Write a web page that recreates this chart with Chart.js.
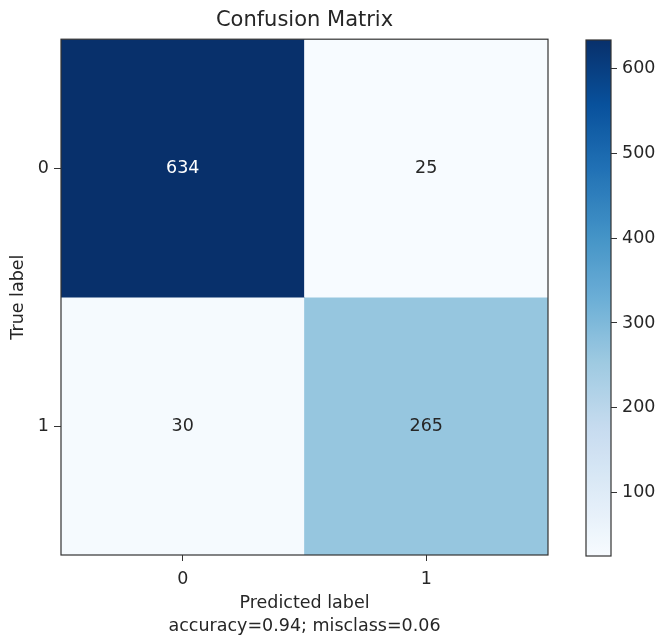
<!DOCTYPE html>
<html>
<head>
<meta charset="utf-8">
<script src="https://cdn.jsdelivr.net/npm/chart.js@4/dist/chart.umd.min.js"></script>
<style>
  html, body { margin: 0; padding: 0; background: #fff; }
  #wrap { position: relative; width: 657px; height: 639px; }
  #main { position: absolute; left: 0; top: 0; }
  #cbar { position: absolute; left: 570px; top: 0; }
</style>
</head>
<body>
<div id="wrap">
  <canvas id="main" width="570" height="639"></canvas>
  <canvas id="cbar" width="87" height="639"></canvas>
</div>
<script>
// ---- data ----
const classes = ['0', '1'];                 // predicted / true labels
const row0 = [634, 25];                     // true label 0
const row1 = [30, 265];                     // true label 1
const colorbarTicks = [100, 200, 300, 400, 500, 600];
const chartTitle = 'Confusion Matrix';
const xTitle = ['Predicted label', 'accuracy=0.94; misclass=0.06'];
const yTitle = 'True label';

const rows = [row0, row1];
const allVals = rows.flat();
const vmin = Math.min(...allVals);
const vmax = Math.max(...allVals);

// matplotlib "Blues" colormap stops
const bluesStops = ['#f7fbff','#deebf7','#c6dbef','#9ecae1','#6baed6','#4292c6','#2171b5','#08519c','#08306b'];
function hex2rgb(h){ return [parseInt(h.slice(1,3),16),parseInt(h.slice(3,5),16),parseInt(h.slice(5,7),16)]; }
function cmap(t){
  t = Math.max(0, Math.min(1, t));
  const n = bluesStops.length - 1;
  const p = t * n, i = Math.min(Math.floor(p), n - 1), f = p - i;
  const a = hex2rgb(bluesStops[i]), b = hex2rgb(bluesStops[i+1]);
  const c = a.map((v,k)=>Math.round(v + (b[k]-v)*f));
  return 'rgb(' + c.join(',') + ')';
}
function colorFor(v){ return cmap((v - vmin) / (vmax - vmin)); }

const FONT = 'DejaVu Sans';
const TXT = '#262626';
const LINE = '#333333';
const LBL = 17.5;

// ---- main heatmap ----
const frame = {
  id: 'frame',
  afterDatasetsDraw(chart) {
    const {ctx, chartArea: a, scales} = chart;
    ctx.save();
    ctx.font = LBL + 'px "' + FONT + '"';
    ctx.textAlign = 'center';
    ctx.textBaseline = 'middle';
    rows.forEach((r, i) => r.forEach((v, j) => {
      ctx.fillStyle = v > vmax / 2 ? '#ffffff' : TXT;
      ctx.fillText(String(v), scales.x.getPixelForValue(j), scales.y.getPixelForValue(i));
    }));
    ctx.strokeStyle = LINE;
    ctx.lineWidth = 1.2;
    ctx.strokeRect(a.left, a.top, a.right - a.left, a.bottom - a.top);
    ctx.restore();
  }
};

new Chart(document.getElementById('main'), {
  type: 'bar',
  data: {
    labels: classes,
    datasets: rows.map((r, i) => ({
      label: 'True ' + classes[i],
      data: r.map(() => [i - 0.5, i + 0.5]),
      backgroundColor: r.map(colorFor),
      borderWidth: 0,
      barPercentage: 1,
      categoryPercentage: 1,
      grouped: false
    }))
  },
  options: {
    responsive: false,
    animation: false,
    layout: { padding: { left: 0, right: 22, top: 0, bottom: 0 } },
    plugins: {
      legend: { display: false },
      tooltip: { enabled: false },
      title: {
        display: true, text: chartTitle, color: TXT, fullSize: false,
        font: { family: FONT, size: 21, weight: 'normal', lineHeight: 1.2 },
        padding: { top: 8, bottom: 6 }
      }
    },
    scales: {
      x: {
        type: 'category',
        offset: true,
        grid: { display: true, offset: false, drawOnChartArea: false, drawTicks: true, tickLength: 6, color: LINE },
        border: { display: false },
        ticks: { color: TXT, padding: 8, font: { family: FONT, size: LBL } },
        title: { display: true, text: xTitle, color: TXT, padding: { top: 0, bottom: 1 },
                 font: { family: FONT, size: LBL, lineHeight: 1.3 } },
        afterFit(s) { s.height = 84; }
      },
      y: {
        type: 'linear',
        min: -0.5, max: 1.5, reverse: true,
        afterBuildTicks(s) { s.ticks = classes.map((c, i) => ({ value: i })); },
        grid: { display: true, drawOnChartArea: false, drawTicks: true, tickLength: 7, color: LINE },
        border: { display: false },
        ticks: { color: TXT, padding: 5, font: { family: FONT, size: LBL },
                 callback: (v) => classes[v] },
        title: { display: true, text: yTitle, color: TXT, padding: { top: 8, bottom: 0 },
                 font: { family: FONT, size: LBL, lineHeight: 1.2 } },
        afterFit(s) { s.width = 61; }
      }
    }
  },
  plugins: [frame]
});

// ---- colorbar ----
const cbFrame = {
  id: 'cbFrame',
  afterDatasetsDraw(chart) {
    const {ctx, chartArea: a} = chart;
    ctx.save();
    ctx.strokeStyle = LINE;
    ctx.lineWidth = 1.2;
    ctx.strokeRect(a.left, a.top, a.right - a.left, a.bottom - a.top);
    ctx.restore();
  }
};

new Chart(document.getElementById('cbar'), {
  type: 'bar',
  data: {
    labels: [''],
    datasets: [{
      data: [[vmin, vmax]],
      borderWidth: 0,
      barPercentage: 1,
      categoryPercentage: 1,
      backgroundColor(ctx) {
        const chart = ctx.chart;
        const y = chart.scales.y;
        if (!chart.chartArea || !y) return bluesStops[4];
        const g = chart.ctx.createLinearGradient(0, y.getPixelForValue(vmin), 0, y.getPixelForValue(vmax));
        for (let k = 0; k <= 40; k++) g.addColorStop(k / 40, cmap(k / 40));
        return g;
      }
    }]
  },
  options: {
    responsive: false,
    animation: false,
    layout: { padding: { left: 16, right: 0, top: 40, bottom: 83 } },
    plugins: { legend: { display: false }, tooltip: { enabled: false }, title: { display: false } },
    scales: {
      x: { display: false, offset: true },
      y: {
        type: 'linear', position: 'right', min: vmin, max: vmax,
        afterBuildTicks(s) { s.ticks = colorbarTicks.map(v => ({ value: v })); },
        grid: { display: true, drawOnChartArea: false, drawTicks: true, tickLength: 6, color: LINE },
        border: { display: false },
        ticks: { color: TXT, padding: 5, font: { family: FONT, size: LBL } },
        afterFit(s) { s.width = 46; }
      }
    }
  },
  plugins: [cbFrame]
});
</script>
</body>
</html>
